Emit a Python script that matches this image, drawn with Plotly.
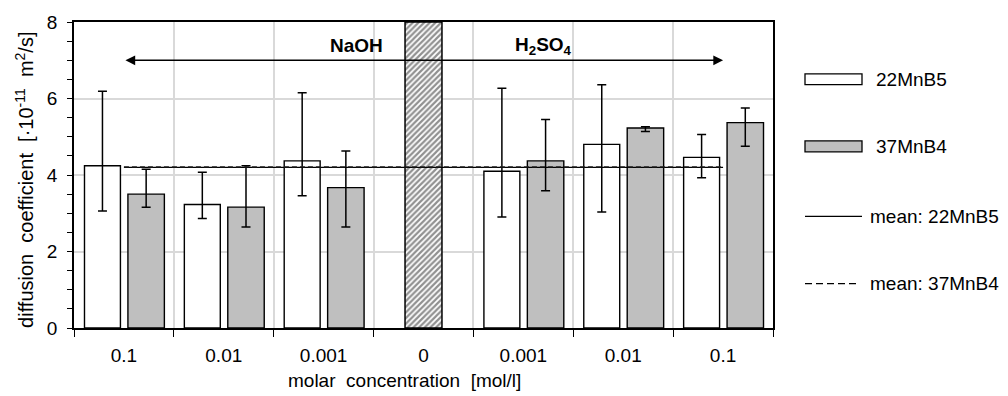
import plotly.graph_objects as go

# ---- data ----
categories = ["0.1", "0.01", "0.001", "0", "0.001", "0.01", "0.1"]
xpos = [0, 1, 2, 3, 4, 5, 6]

# 22MnB5 (white) -- category "0" has no measurement
mn22_val = [4.24, 3.23, 4.37, None, 4.10, 4.80, 4.46]
mn22_hi = [6.19, 4.07, 6.15, None, 6.27, 6.36, 5.06]
mn22_lo = [3.06, 2.86, 3.46, None, 2.90, 3.03, 3.93]

# 37MnB4 (grey)
mn37_val = [3.50, 3.16, 3.67, None, 4.37, 5.23, 5.37]
mn37_hi = [4.15, 4.24, 4.63, None, 5.45, 5.26, 5.75]
mn37_lo = [3.16, 2.64, 2.64, None, 3.59, 5.14, 4.75]

mean_22 = 4.20
mean_37 = 4.21

reference_x = [3]
reference_h = [8]

arrow_y = 7.0

FONT = "Liberation Sans, Arial, sans-serif"
FS = 19
W, H = 1008, 396
L, R, T, B = 74, 235, 18, 68


def err_plus(v, hi):
    return [None if a is None else h - a for a, h in zip(v, hi)]


def err_minus(v, lo):
    return [None if a is None else a - l for a, l in zip(v, lo)]


fig = go.Figure()

# hatched reference bar
fig.add_trace(go.Bar(
    x=reference_x, y=reference_h, width=0.37, offset=-0.185,
    marker=dict(color="white", line=dict(color="black", width=1.5),
                pattern=dict(shape="/", fgcolor="#222222", bgcolor="white",
                             size=4, solidity=0.55)),
    showlegend=False, hoverinfo="skip"))

fig.add_trace(go.Bar(
    x=xpos, y=mn22_val, width=0.36, offset=-0.395, name="22MnB5",
    marker=dict(color="white", line=dict(color="black", width=1.4)),
    error_y=dict(type="data", symmetric=False,
                 array=err_plus(mn22_val, mn22_hi),
                 arrayminus=err_minus(mn22_val, mn22_lo),
                 color="black", thickness=1.5, width=4.5),
    showlegend=False))

fig.add_trace(go.Bar(
    x=xpos, y=mn37_val, width=0.365, offset=0.04, name="37MnB4",
    marker=dict(color="#bfbfbf", line=dict(color="black", width=1.4)),
    error_y=dict(type="data", symmetric=False,
                 array=err_plus(mn37_val, mn37_hi),
                 arrayminus=err_minus(mn37_val, mn37_lo),
                 color="black", thickness=1.5, width=4.5),
    showlegend=False))

fig.add_trace(go.Scatter(
    x=[xpos[0], xpos[-1]], y=[mean_22, mean_22], mode="lines",
    line=dict(color="black", width=1.3), name="mean: 22MnB5",
    showlegend=False))
fig.add_trace(go.Scatter(
    x=[xpos[0], xpos[-1]], y=[mean_37, mean_37], mode="lines",
    line=dict(color="#222222", width=1.3, dash="5px,3px"),
    name="mean: 37MnB4", showlegend=False))

# double-headed arrow
fig.add_annotation(x=xpos[-1], y=arrow_y, ax=xpos[0], ay=arrow_y,
                   xref="x", yref="y", axref="x", ayref="y", text="",
                   showarrow=True, arrowhead=2, arrowside="end+start",
                   arrowsize=1.3, arrowwidth=1.5, arrowcolor="black")

fig.add_annotation(x=2.615, y=7.38, xref="x", yref="y", text="<b>NaOH</b>",
                   showarrow=False, xanchor="right", yanchor="middle",
                   font=dict(family=FONT, size=FS, color="black"))
fig.add_annotation(x=3.895, y=7.38, xref="x", yref="y",
                   text="<b>H<sub>2</sub>SO<sub>4</sub></b>",
                   showarrow=False, xanchor="left", yanchor="middle",
                   font=dict(family=FONT, size=FS, color="black"))


# ---- custom legend (pixel -> paper helpers) ----
def px(xp):
    return (xp - L) / (W - L - R)


def py(yp):
    return (H - B - yp) / (H - T - B)


legend_rows = [76, 144, 215, 283]
sym_x0, sym_x1 = 805, 862
for yrow, fill in zip(legend_rows[:2], ["white", "#bfbfbf"]):
    fig.add_shape(type="rect", xref="paper", yref="paper",
                  x0=px(sym_x0), x1=px(sym_x1), y0=py(yrow + 5.5), y1=py(yrow - 5.5),
                  fillcolor=fill, line=dict(color="black", width=1.3))
fig.add_shape(type="line", xref="paper", yref="paper",
              x0=px(sym_x0), x1=px(sym_x1), y0=py(legend_rows[2]), y1=py(legend_rows[2]),
              line=dict(color="black", width=1.3))
fig.add_shape(type="line", xref="paper", yref="paper",
              x0=px(sym_x0), x1=px(sym_x1 - 3), y0=py(legend_rows[3]), y1=py(legend_rows[3]),
              line=dict(color="black", width=1.3, dash="7px,4px"))
legend_texts = ["22MnB5", "37MnB4", "mean: 22MnB5", "mean: 37MnB4"]
legend_tx = [874, 874, 868, 868]
for txt, yrow, tx in zip(legend_texts, legend_rows, legend_tx):
    fig.add_annotation(x=px(tx), y=py(yrow), xref="paper", yref="paper",
                       text=txt, showarrow=False, xanchor="left", yanchor="middle",
                       font=dict(family=FONT, size=FS, color="black"))

# axis titles as annotations for exact placement
fig.add_annotation(x=px(404), y=py(381), xref="paper", yref="paper",
                   text="molar  concentration  [mol/l]", showarrow=False,
                   xanchor="center", yanchor="middle",
                   font=dict(family=FONT, size=FS, color="black"))
fig.add_annotation(x=px(25), y=py(178), xref="paper", yref="paper",
                   text="diffusion  coefficient  [·10<sup>-11</sup>  m<sup>2</sup>/s]",
                   showarrow=False, textangle=-90, xanchor="center", yanchor="middle",
                   font=dict(family=FONT, size=20, color="black"))

fig.update_layout(
    width=W, height=H, autosize=False,
    margin=dict(l=L, r=R, t=T, b=B, pad=0),
    paper_bgcolor="white", plot_bgcolor="white",
    barmode="overlay",
    font=dict(family=FONT, size=FS, color="black"),
    showlegend=False,
)

boundaries = [i - 0.5 for i in range(len(categories) + 1)]
fig.update_xaxes(
    range=[-0.5, 6.5], tickmode="array", tickvals=xpos, ticktext=categories,
    ticks="", showgrid=False, zeroline=False,
    showline=True, linecolor="black", linewidth=1.5, mirror=True,
    ticklabelstandoff=9,
    tickfont=dict(family=FONT, size=FS, color="black"),
    minor=dict(tickmode="array", tickvals=boundaries, ticks="outside",
               ticklen=7, tickwidth=1.3, tickcolor="black",
               showgrid=True, gridcolor="#d9d9d9", gridwidth=1.5),
)
fig.update_yaxes(
    range=[0, 8], tickmode="linear", tick0=0, dtick=2,
    ticks="outside", ticklen=5, tickwidth=1.3, tickcolor="black",
    showgrid=True, gridcolor="#d9d9d9", gridwidth=1.5, zeroline=False,
    showline=True, linecolor="black", linewidth=1.5, mirror=True,
    ticklabelstandoff=6,
    tickfont=dict(family=FONT, size=FS, color="black"),
    minor=dict(dtick=0.5, ticks="outside", ticklen=5, tickwidth=1.3,
               tickcolor="black", showgrid=False),
)

fig.write_html("out.html")
